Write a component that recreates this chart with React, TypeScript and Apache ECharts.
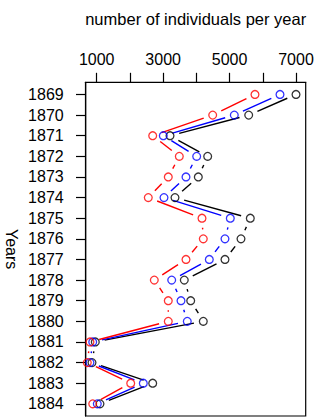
import React, { useEffect, useRef } from "react";
import * as echarts from "echarts";

const years = [1869, 1870, 1871, 1872, 1873, 1874, 1875, 1876, 1877, 1878, 1879, 1880, 1881, 1882, 1883, 1884];
const blackValues = [7000, 5576, 3207, 4341, 4059, 3357, 5624, 5344, 4862, 3637, 3830, 4209, 958, 859, 2686, 1099];
const blueValues = [6518, 5142, 3005, 4010, 3688, 3026, 5022, 4862, 4390, 3258, 3538, 3727, 880, 798, 2403, 1018];
const redValues = [5765, 4492, 2686, 3487, 3155, 2553, 4170, 4209, 3688, 2734, 3155, 3155, 798, 717, 2024, 880];
const xTicks = [1000, 2000, 3000, 4000, 5000, 6000, 7000];
const xLabels = [1000, 3000, 5000, 7000];
const titleText = "number of individuals per year";
const yName = "Years";

const FONT = "'Liberation Sans', Arial, Helvetica, sans-serif";
const GAP = 9.5;

function pointSeries(values: number[], color: string) {
  return {
    type: "scatter",
    data: values.map((v, i) => [v, years[i]]),
    symbol: "circle",
    symbolSize: 7.8,
    itemStyle: { color: "transparent", borderColor: color, borderWidth: 1.3 },
    silent: true,
    z: 3,
  };
}

function segmentSeries(values: number[], color: string) {
  const data: number[][] = [];
  for (let i = 0; i < values.length - 1; i++) {
    data.push([values[i], years[i], values[i + 1], years[i + 1]]);
  }
  return {
    type: "custom",
    data,
    encode: { x: [0, 2], y: [1, 3] },
    silent: true,
    z: 2,
    renderItem: (params: any, api: any) => {
      const p1 = api.coord([api.value(0), api.value(1)]);
      const p2 = api.coord([api.value(2), api.value(3)]);
      const dx = p2[0] - p1[0];
      const dy = p2[1] - p1[1];
      const d = Math.sqrt(dx * dx + dy * dy);
      if (d <= 2 * GAP) return null;
      const ux = dx / d;
      const uy = dy / d;
      return {
        type: "line",
        shape: {
          x1: p1[0] + ux * GAP,
          y1: p1[1] + uy * GAP,
          x2: p2[0] - ux * GAP,
          y2: p2[1] - uy * GAP,
        },
        style: { stroke: color, lineWidth: 1.4 },
      };
    },
  };
}

export default function App() {
  const ref = useRef<HTMLDivElement>(null);
  useEffect(() => {
    if (!ref.current) return;
    const chart = echarts.init(ref.current, null, { renderer: "svg" });
    const gridLeft = 85.7;
    const gridTop = 82.3;
    const gridRight = 305.7;
    const gridBottom = 416;
    chart.setOption({
      animation: false,
      backgroundColor: "#ffffff",
      textStyle: { fontFamily: FONT },
      grid: {
        left: gridLeft,
        top: gridTop,
        width: gridRight - gridLeft,
        height: gridBottom - gridTop,
        show: true,
        borderColor: "#000",
        borderWidth: 1.2,
        backgroundColor: "transparent",
        containLabel: false,
        outerBoundsMode: "none",
      },
      xAxis: {
        type: "value",
        position: "top",
        min: 669,
        max: 7292,
        axisLine: { show: true, lineStyle: { color: "#000", width: 1.2 } },
        axisTick: { show: true, customValues: xTicks, length: 9.5, lineStyle: { color: "#000", width: 1.2 } },
        axisLabel: {
          show: true,
          customValues: xLabels,
          color: "#000",
          fontSize: 16,
          fontFamily: FONT,
          margin: 15,
          formatter: (v: number) => String(v),
        },
        splitLine: { show: false },
      },
      yAxis: {
        type: "value",
        inverse: true,
        min: 1868.41,
        max: 1884.59,
        axisLine: { show: true, lineStyle: { color: "#000", width: 1.2 } },
        axisTick: { show: true, customValues: years, length: 9.7, lineStyle: { color: "#000", width: 1.2 } },
        axisLabel: {
          show: true,
          customValues: years,
          color: "#000",
          fontSize: 16,
          fontFamily: FONT,
          margin: 22,
          formatter: (v: number) => String(v),
        },
        splitLine: { show: false },
      },
      graphic: [
        {
          type: "text",
          x: (gridLeft + gridRight) / 2,
          y: 18.5,
          style: {
            text: titleText,
            fill: "#000",
            fontSize: 16.5,
            fontFamily: FONT,
            textAlign: "center",
            textVerticalAlign: "middle",
          },
        },
        {
          type: "text",
          x: 11.3,
          y: (gridTop + gridBottom) / 2,
          rotation: -Math.PI / 2,
          style: {
            text: yName,
            fill: "#000",
            fontSize: 16,
            fontFamily: FONT,
            textAlign: "center",
            textVerticalAlign: "middle",
          },
        },
      ],
      series: [
        segmentSeries(blackValues, "#000000"),
        segmentSeries(blueValues, "#0000ff"),
        segmentSeries(redValues, "#ff0000"),
        pointSeries(blackValues, "#000000"),
        pointSeries(blueValues, "#0000ff"),
        pointSeries(redValues, "#ff0000"),
      ],
    });
    return () => chart.dispose();
  }, []);
  return (
    <div
      ref={ref}
      style={{ position: "absolute", left: 0, top: 0, width: 320, height: 419, background: "#fff" }}
    />
  );
}
